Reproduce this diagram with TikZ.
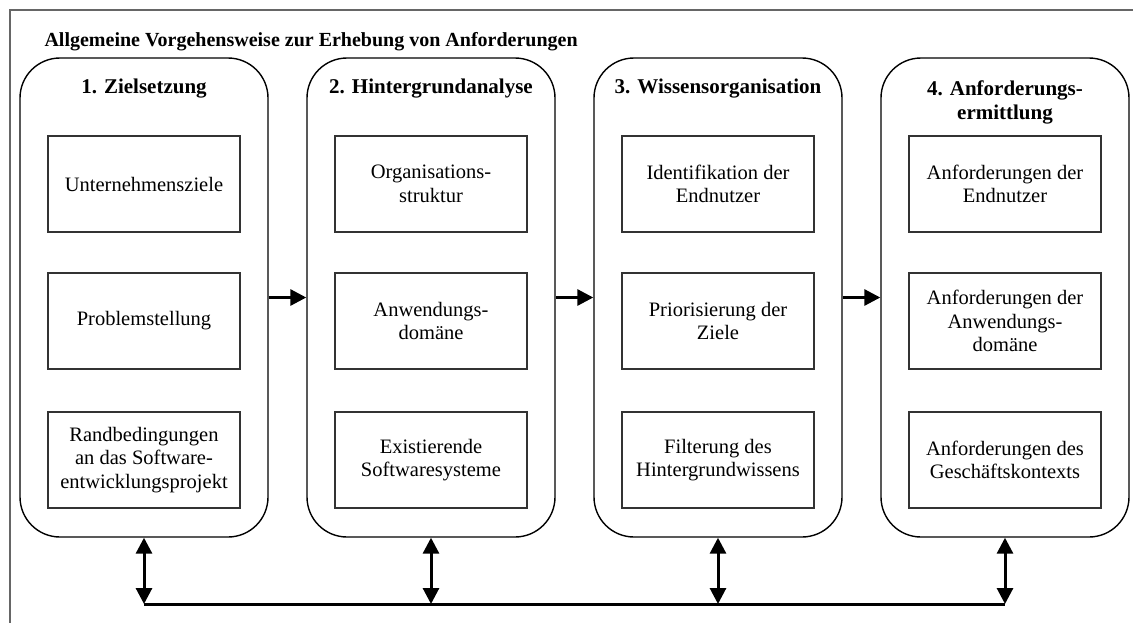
\documentclass[tikz,border=0pt]{standalone}
\usepackage{fontspec}
\setmainfont{Liberation Serif}
\usetikzlibrary{arrows.meta}
\begin{document}
\begin{tikzpicture}[x=1pt,y=-1pt,
  container/.style={draw=black,line width=1.4pt,rounded corners=40pt,minimum width=248pt,minimum height=479pt},
  stepbox/.style={draw=black!80,line width=1.2pt,minimum width=192pt,minimum height=96pt,align=center,font=\fontsize{20.5}{23.5}\selectfont},
  ctitle/.style={anchor=north,align=center,font=\bfseries\fontsize{21}{24}\selectfont},
  conn/.style={line width=3pt,-{Triangle[length=16pt,width=16pt]}},
  dconn/.style={line width=3pt,{Triangle[length=16pt,width=16pt]}-{Triangle[length=16pt,width=16pt]}},
  frame/.style={draw=black!60,line width=2pt}]
\useasboundingbox (0,0) rectangle (1133,622);
\draw[frame] (10,630) -- (10,10) -- (1140,10);
\node[anchor=west,font=\bfseries\fontsize{20}{23}\selectfont] (title) at (41,42) {Allgemeine Vorgehensweise zur Erhebung von Anforderungen};
% containers
\node[container] (c1) at (144,297.5) {};
\node[container] (c2) at (431,297.5) {};
\node[container] (c3) at (718,297.5) {};
\node[container] (c4) at (1005,297.5) {};
\node[ctitle] (t1) at (144,75) {1. Zielsetzung};
\node[ctitle] (t2) at (431,75) {2. Hintergrundanalyse};
\node[ctitle] (t3) at (718,75) {3. Wissensorganisation};
\node[ctitle] (t4) at (1005,77) {4. Anforderungs-\\ermittlung};
% inner boxes
\node[stepbox] (a1) at (144,184) {Unternehmensziele};
\node[stepbox] (a2) at (144,321) {Problemstellung};
\node[stepbox] (a3) at (144,460) {Randbedingungen\\an das Software-\\entwicklungsprojekt};
\node[stepbox] (b1) at (431,184) {Organisations-\\struktur};
\node[stepbox] (b2) at (431,321) {Anwendungs-\\domäne};
\node[stepbox] (b3) at (431,460) {Existierende\\Softwaresysteme};
\node[stepbox] (d1) at (718,184) {Identifikation der\\Endnutzer};
\node[stepbox] (d2) at (718,321) {Priorisierung der\\Ziele};
\node[stepbox] (d3) at (718,460) {Filterung des\\Hintergrundwissens};
\node[stepbox] (e1) at (1005,184) {Anforderungen der\\Endnutzer};
\node[stepbox] (e2) at (1005,321) {Anforderungen der\\Anwendungs-\\domäne};
\node[stepbox] (e3) at (1005,460) {Anforderungen des\\Geschäftskontexts};
% horizontal arrows
\draw[conn] (c1.east) -- (c2.west);
\draw[conn] (c2.east) -- (c3.west);
\draw[conn] (c3.east) -- (c4.west);
% bottom bus
\coordinate (p1) at (144,604);
\coordinate (p2) at (431,604);
\coordinate (p3) at (718,604);
\coordinate (p4) at (1005,604);
\draw[line width=3pt] (p1) -- (p4);
\draw[dconn] (c1.south) -- (p1);
\draw[dconn] (c2.south) -- (p2);
\draw[dconn] (c3.south) -- (p3);
\draw[dconn] (c4.south) -- (p4);
\end{tikzpicture}
\end{document}
